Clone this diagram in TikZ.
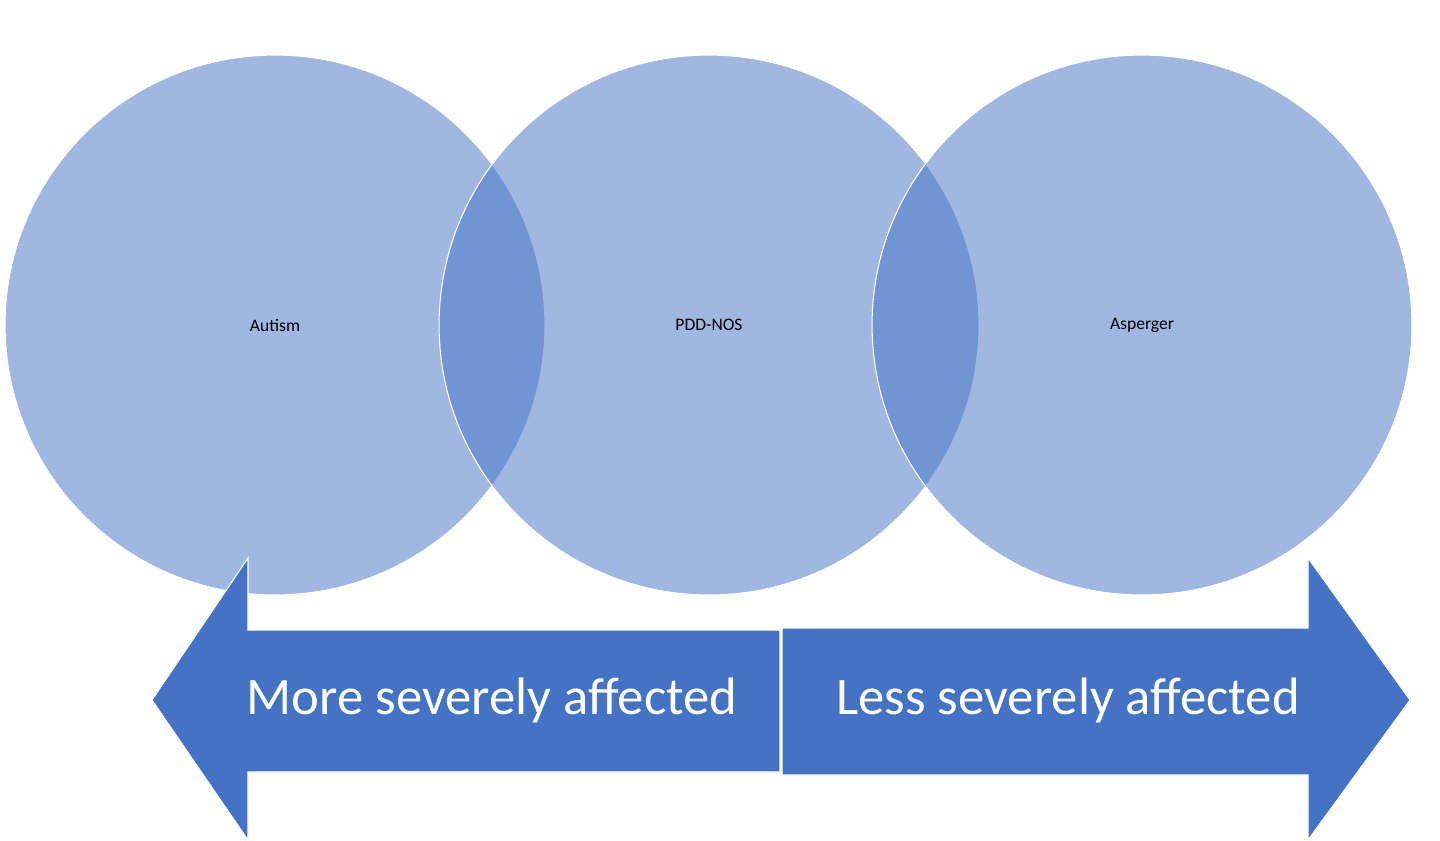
\documentclass[tikz,border=0pt]{standalone}
\usepackage{fontspec}
\setmainfont{Carlito}
\usetikzlibrary{positioning}
\definecolor{venn}{HTML}{4472C4}
\definecolor{band}{HTML}{4472C4}
\tikzset{
  set/.style={circle, minimum size=10.8cm, inner sep=0pt, fill=venn, fill opacity=0.51, draw=white, draw opacity=1, line width=0.6pt, text opacity=1, font=\fontsize{52}{56}\selectfont, align=center},
  band/.style={fill=band, draw=white, line width=0.6pt},
  tag/.style={text=white, font=\fontsize{30}{34}\selectfont}
}
\begin{document}
\begin{tikzpicture}[x=0.02cm, y=-0.02cm]
    \useasboundingbox (0,0) rectangle (1440,840);
    \node (autism) [set] at (275,325) {};
    \node (pdd) [set] at (709,325) {};
    \node (asp) [set] at (1142,325) {};
    \node at (autism) {Autism};
    \node at (pdd) {PDD-\\NOS};
    \node at (asp) {Asperger};

    % severity arrows
    \draw [band] (780,630) -- (248,630) -- (248,558) -- (152,700) -- (248,840) -- (248,772) -- (780,772) -- cycle;
    \draw [band] (782,628) -- (1308,628) -- (1308,558) -- (1410,700) -- (1308,840) -- (1308,775) -- (782,775) -- cycle;
    \node (more) [tag] at (492,700) {More severely affected};
    \node (less) [tag] at (1068,700) {Less severely affected};
\end{tikzpicture}
\end{document}
